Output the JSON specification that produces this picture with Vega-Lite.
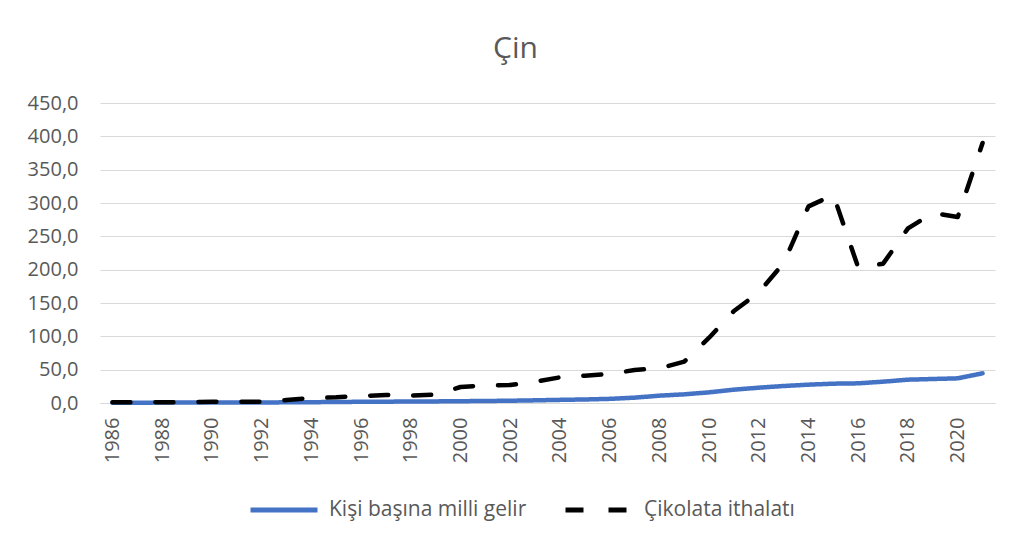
{
  "$schema": "https://vega.github.io/schema/vega-lite/v6.json",
  "width": 895,
  "height": 300,
  "autosize": {"type": "none"},
  "padding": {"left": 100, "top": 103, "right": 17, "bottom": 139},
  "background": "white",
  "title": {
    "text": "Çin",
    "anchor": "middle",
    "frame": "group",
    "dx": -32,
    "offset": 5,
    "baseline": "alphabetic",
    "font": "Open Sans",
    "fontSize": 30,
    "fontWeight": "normal",
    "color": "#595959"
  },
  "config": {
    "view": {"stroke": null},
    "font": "Open Sans"
  },
  "data": {
    "values": [
      {"year": 1986, "series": "Kişi başına milli gelir", "value": 0.5},
      {"year": 1987, "series": "Kişi başına milli gelir", "value": 0.5},
      {"year": 1988, "series": "Kişi başına milli gelir", "value": 0.6},
      {"year": 1989, "series": "Kişi başına milli gelir", "value": 0.6},
      {"year": 1990, "series": "Kişi başına milli gelir", "value": 0.6},
      {"year": 1991, "series": "Kişi başına milli gelir", "value": 0.7},
      {"year": 1992, "series": "Kişi başına milli gelir", "value": 0.8},
      {"year": 1993, "series": "Kişi başına milli gelir", "value": 1.0},
      {"year": 1994, "series": "Kişi başına milli gelir", "value": 1.2},
      {"year": 1995, "series": "Kişi başına milli gelir", "value": 1.5},
      {"year": 1996, "series": "Kişi başına milli gelir", "value": 1.8},
      {"year": 1997, "series": "Kişi başına milli gelir", "value": 2.0},
      {"year": 1998, "series": "Kişi başına milli gelir", "value": 2.2},
      {"year": 1999, "series": "Kişi başına milli gelir", "value": 2.4},
      {"year": 2000, "series": "Kişi başına milli gelir", "value": 2.7},
      {"year": 2001, "series": "Kişi başına milli gelir", "value": 3.0},
      {"year": 2002, "series": "Kişi başına milli gelir", "value": 3.4},
      {"year": 2003, "series": "Kişi başına milli gelir", "value": 4.0},
      {"year": 2004, "series": "Kişi başına milli gelir", "value": 4.7},
      {"year": 2005, "series": "Kişi başına milli gelir", "value": 5.3},
      {"year": 2006, "series": "Kişi başına milli gelir", "value": 6.2},
      {"year": 2007, "series": "Kişi başına milli gelir", "value": 8.0},
      {"year": 2008, "series": "Kişi başına milli gelir", "value": 11.0},
      {"year": 2009, "series": "Kişi başına milli gelir", "value": 13.0},
      {"year": 2010, "series": "Kişi başına milli gelir", "value": 16.0},
      {"year": 2011, "series": "Kişi başına milli gelir", "value": 20.0},
      {"year": 2012, "series": "Kişi başına milli gelir", "value": 23.0},
      {"year": 2013, "series": "Kişi başına milli gelir", "value": 25.5},
      {"year": 2014, "series": "Kişi başına milli gelir", "value": 27.5},
      {"year": 2015, "series": "Kişi başına milli gelir", "value": 29.0},
      {"year": 2016, "series": "Kişi başına milli gelir", "value": 29.5},
      {"year": 2017, "series": "Kişi başına milli gelir", "value": 32.0},
      {"year": 2018, "series": "Kişi başına milli gelir", "value": 35.0},
      {"year": 2019, "series": "Kişi başına milli gelir", "value": 36.0},
      {"year": 2020, "series": "Kişi başına milli gelir", "value": 37.0},
      {"year": 2021, "series": "Kişi başına milli gelir", "value": 44.5},
      {"year": 1986, "series": "Çikolata ithalatı", "value": 1},
      {"year": 1987, "series": "Çikolata ithalatı", "value": 1},
      {"year": 1988, "series": "Çikolata ithalatı", "value": 1},
      {"year": 1989, "series": "Çikolata ithalatı", "value": 1},
      {"year": 1990, "series": "Çikolata ithalatı", "value": 2},
      {"year": 1991, "series": "Çikolata ithalatı", "value": 2},
      {"year": 1992, "series": "Çikolata ithalatı", "value": 2},
      {"year": 1993, "series": "Çikolata ithalatı", "value": 4.5},
      {"year": 1994, "series": "Çikolata ithalatı", "value": 7.5},
      {"year": 1995, "series": "Çikolata ithalatı", "value": 8.5},
      {"year": 1996, "series": "Çikolata ithalatı", "value": 10.5},
      {"year": 1997, "series": "Çikolata ithalatı", "value": 12},
      {"year": 1998, "series": "Çikolata ithalatı", "value": 11},
      {"year": 1999, "series": "Çikolata ithalatı", "value": 12.5},
      {"year": 2000, "series": "Çikolata ithalatı", "value": 24},
      {"year": 2001, "series": "Çikolata ithalatı", "value": 26.5},
      {"year": 2002, "series": "Çikolata ithalatı", "value": 27},
      {"year": 2003, "series": "Çikolata ithalatı", "value": 32},
      {"year": 2004, "series": "Çikolata ithalatı", "value": 38.5},
      {"year": 2005, "series": "Çikolata ithalatı", "value": 41},
      {"year": 2006, "series": "Çikolata ithalatı", "value": 43.5},
      {"year": 2007, "series": "Çikolata ithalatı", "value": 49.5},
      {"year": 2008, "series": "Çikolata ithalatı", "value": 52},
      {"year": 2009, "series": "Çikolata ithalatı", "value": 62},
      {"year": 2010, "series": "Çikolata ithalatı", "value": 98},
      {"year": 2011, "series": "Çikolata ithalatı", "value": 138},
      {"year": 2012, "series": "Çikolata ithalatı", "value": 166},
      {"year": 2013, "series": "Çikolata ithalatı", "value": 210},
      {"year": 2014, "series": "Çikolata ithalatı", "value": 295},
      {"year": 2015, "series": "Çikolata ithalatı", "value": 312},
      {"year": 2016, "series": "Çikolata ithalatı", "value": 203},
      {"year": 2017, "series": "Çikolata ithalatı", "value": 209},
      {"year": 2018, "series": "Çikolata ithalatı", "value": 262},
      {"year": 2019, "series": "Çikolata ithalatı", "value": 285},
      {"year": 2020, "series": "Çikolata ithalatı", "value": 279},
      {"year": 2021, "series": "Çikolata ithalatı", "value": 390}
    ]
  },
  "mark": {"type": "line", "strokeWidth": 4.5, "strokeCap": "round", "strokeJoin": "round"},
  "encoding": {
    "x": {
      "field": "year",
      "type": "ordinal",
      "scale": {"type": "point", "padding": 0.5},
      "axis": {
        "title": null,
        "values": [1986, 1988, 1990, 1992, 1994, 1996, 1998, 2000, 2002, 2004, 2006, 2008, 2010, 2012, 2014, 2016, 2018, 2020],
        "labelAngle": -90,
        "labelFontSize": 20,
        "labelColor": "#595959",
        "labelPadding": 14,
        "ticks": false,
        "domain": true,
        "domainColor": "#d9d9d9",
        "domainWidth": 1,
        "grid": false
      }
    },
    "y": {
      "field": "value",
      "type": "quantitative",
      "scale": {"domain": [0, 450], "nice": false},
      "axis": {
        "title": null,
        "values": [0, 50, 100, 150, 200, 250, 300, 350, 400, 450],
        "labelExpr": "replace(format(datum.value, '.1f'), '.', ',')",
        "labelFontSize": 20,
        "labelColor": "#595959",
        "labelPadding": 22,
        "ticks": false,
        "domain": false,
        "grid": true,
        "gridColor": "#d9d9d9",
        "gridWidth": 1
      }
    },
    "color": {
      "field": "series",
      "type": "nominal",
      "scale": {"domain": ["Kişi başına milli gelir", "Çikolata ithalatı"], "range": ["#4472C4", "#000000"]},
      "legend": {
        "title": null,
        "orient": "none",
        "direction": "horizontal",
        "legendX": 148,
        "legendY": 371,
        "symbolType": "stroke",
        "symbolSize": 4489,
        "symbolStrokeWidth": 5,
        "labelFontSize": 21,
        "labelLimit": 500,
        "labelColor": "#595959",
        "labelOffset": 9,
        "columnPadding": 28
      }
    },
    "strokeDash": {
      "field": "series",
      "type": "nominal",
      "scale": {"domain": ["Kişi başına milli gelir", "Çikolata ithalatı"], "range": [[1, 0], [18, 25]]},
      "legend": {
        "title": null,
        "orient": "none",
        "direction": "horizontal",
        "legendX": 148,
        "legendY": 371,
        "symbolType": "stroke",
        "symbolSize": 4489,
        "symbolStrokeWidth": 5,
        "labelFontSize": 21,
        "labelLimit": 500,
        "labelColor": "#595959",
        "labelOffset": 9,
        "columnPadding": 28
      }
    }
  }
}
